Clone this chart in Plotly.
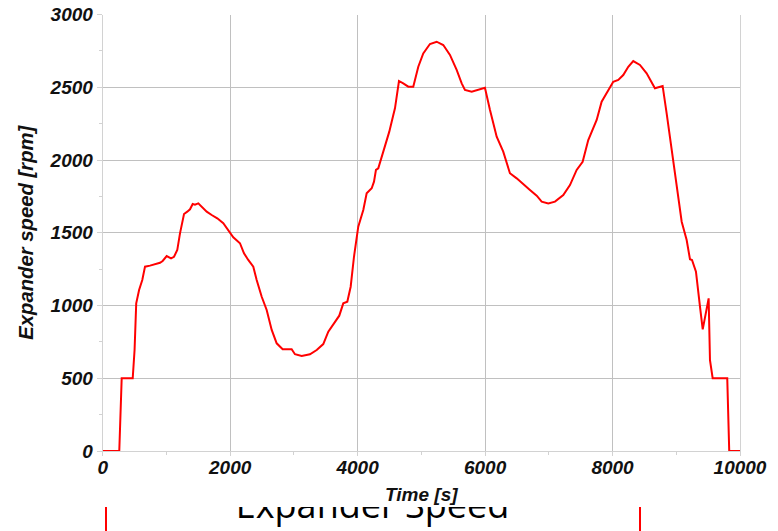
import plotly.graph_objects as go

# ---- data ----
time_s = [0, 260, 298, 471, 500, 526, 571, 621, 664, 742, 899, 941, 1004, 1072, 1119,
          1170, 1213, 1276, 1327, 1370, 1412, 1448, 1500, 1542, 1632, 1710, 1798, 1892,
          1971, 2049, 2154, 2217, 2284, 2363, 2416, 2495, 2573, 2652, 2730, 2824, 2965,
          3017, 3122, 3252, 3358, 3461, 3540, 3645, 3712, 3775, 3838, 3891, 3943, 4010,
          4089, 4142, 4221, 4257, 4288, 4324, 4378, 4430, 4497, 4560, 4586, 4613, 4649,
          4716, 4795, 4873, 4900, 4952, 5030, 5135, 5240, 5344, 5449, 5554, 5633, 5684,
          5790, 5893, 5998, 6077, 6182, 6285, 6390, 6496, 6626, 6704, 6810, 6888, 6992,
          7097, 7227, 7332, 7437, 7531, 7619, 7751, 7829, 7933, 8011, 8090, 8168, 8247,
          8325, 8430, 8535, 8665, 8786, 8849, 8927, 9006, 9085, 9163, 9215, 9247, 9309,
          9372, 9415, 9508, 9529, 9571, 9800, 9831, 10000]
speed_rpm = [0, 0, 500, 500, 694, 1015, 1107, 1175, 1267, 1274, 1294, 1306, 1340, 1324, 1335,
             1381, 1496, 1629, 1645, 1661, 1698, 1693, 1702, 1684, 1645, 1622, 1599, 1565,
             1514, 1469, 1428, 1359, 1313, 1267, 1175, 1060, 969, 832, 740, 699, 699,
             665, 653, 665, 694, 735, 820, 890, 930, 1015, 1026, 1129, 1335, 1542,
             1656, 1771, 1806, 1851, 1932, 1943, 2023, 2103, 2195, 2309, 2355, 2435, 2543,
             2527, 2504, 2504, 2550, 2641, 2733, 2797, 2813, 2790, 2722, 2619, 2527, 2481,
             2470, 2481, 2497, 2344, 2160, 2057, 1909, 1874, 1828, 1794, 1755, 1714, 1702,
             1714, 1759, 1828, 1932, 1988, 2137, 2275, 2401, 2476, 2538, 2550, 2584, 2641,
             2680, 2653, 2596, 2493, 2509, 2321, 2069, 1794, 1576, 1450, 1318, 1313, 1232,
             992, 836, 1049, 625, 500, 500, 0, 0]

x_tick_vals = [0, 2000, 4000, 6000, 8000, 10000]
x_tick_text = ["0", "2000", "4000", "6000", "8000", "10000"]
y_tick_vals = [0, 500, 1000, 1500, 2000, 2500, 3000]
y_tick_text = ["0", "500", "1000", "1500", "2000", "2500", "3000"]

x_title = "Time [s]"
y_title = "Expander speed [rpm]"
caption = "Expander Speed"

# ---- figure ----
# the page body has an 8px margin, so the figure is drawn 8px smaller
OFF = 8
W, H = 778 - OFF, 531 - OFF


def fx(px):  # page x pixel -> paper fraction
    return (px - OFF) / W


def fy(py):  # page y pixel -> paper fraction (from bottom)
    return (H - (py - OFF)) / H


tick_font = dict(family="Liberation Sans, Arial, sans-serif", size=19,
                 color="#111111", weight="bold", style="italic")
xtitle_font = dict(family="Liberation Sans, Arial, sans-serif", size=19,
                   color="#111111", weight="bold", style="italic")
ytitle_font = dict(family="Liberation Sans, Arial, sans-serif", size=20.3,
                   color="#111111", weight="bold", style="italic")

fig = go.Figure()
fig.add_trace(go.Scatter(
    x=time_s, y=speed_rpm, mode="lines",
    line=dict(color="rgb(255,0,0)", width=2),
    cliponaxis=False, showlegend=False, hoverinfo="skip",
))

# caption partly hidden under the chart: a text trace in a thin clipped subplot
cap_top = 507
fig.add_trace(go.Scatter(
    x=[372.5 - OFF], y=[531 - 509.0], mode="text", text=[caption],
    textposition="middle center",
    textfont=dict(family="Open Sans, Noto Sans, sans-serif", size=36, color="#000000"),
    xaxis="x2", yaxis="y2", cliponaxis=True, showlegend=False, hoverinfo="skip",
))

grid_col = "#c0c0c0"
line_col = "#d2d2d2"
fig.update_layout(
    template="none",
    width=W, height=H,
    margin=dict(l=0, r=0, t=0, b=0, pad=0, autoexpand=False),
    paper_bgcolor="white", plot_bgcolor="white",
    xaxis=dict(
        domain=[fx(102.7), fx(740)], range=[0, 10000], automargin=False,
        tickvals=x_tick_vals, ticktext=x_tick_text, tickfont=tick_font,
        ticklabelstandoff=-5, ticklabeloverflow="allow",
        showgrid=True, gridcolor=grid_col, gridwidth=1,
        showline=True, linecolor=line_col, linewidth=1, mirror=False,
        ticks="outside", ticklen=4, tickcolor=line_col,
        minor=dict(dtick=1000, ticks="outside", ticklen=3, tickcolor=line_col, showgrid=False),
        zeroline=False, fixedrange=True,
        title=dict(text=x_title, font=xtitle_font, standoff=10),
    ),
    yaxis=dict(
        domain=[fy(451), fy(14.5)], range=[0, 3000], automargin=False,
        tickvals=y_tick_vals, ticktext=y_tick_text, tickfont=tick_font,
        ticklabeloverflow="allow",
        showgrid=True, gridcolor=grid_col, gridwidth=1,
        showline=True, linecolor=line_col, linewidth=1, mirror=True,
        ticks="outside", ticklen=5, tickcolor=line_col,
        minor=dict(dtick=250, ticks="outside", ticklen=3, tickcolor=line_col, showgrid=False),
        zeroline=False, fixedrange=True,
        title=dict(text=y_title, font=ytitle_font, standoff=10),
    ),
    xaxis2=dict(domain=[0, 1], range=[0, W], visible=False, fixedrange=True,
                anchor="y2", automargin=False),
    yaxis2=dict(domain=[0, fy(cap_top)], range=[0, 531 - cap_top], visible=False,
                fixedrange=True, anchor="x2", automargin=False),
    shapes=[
        dict(type="line", xref="paper", yref="paper", x0=fx(106), x1=fx(106),
             y0=0, y1=fy(cap_top), line=dict(color="rgb(255,0,0)", width=2)),
        dict(type="line", xref="paper", yref="paper", x0=fx(640), x1=fx(640),
             y0=0, y1=fy(cap_top), line=dict(color="rgb(255,0,0)", width=2)),
    ],
)

fig.write_html("out.html")
